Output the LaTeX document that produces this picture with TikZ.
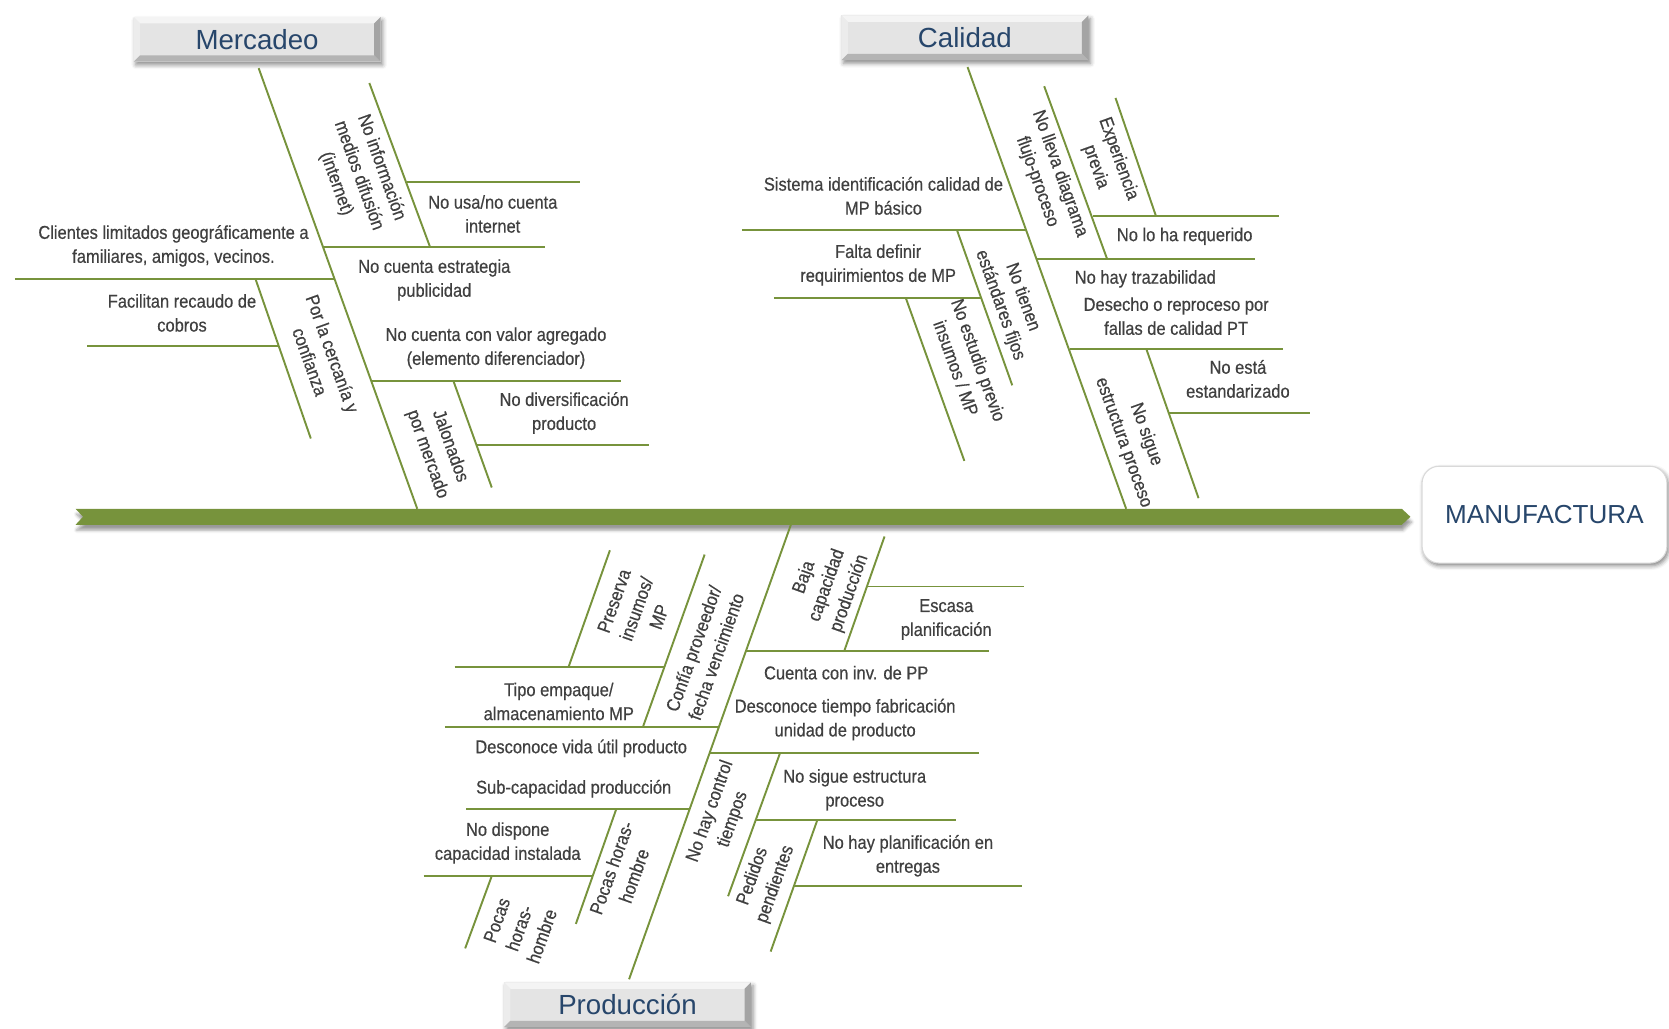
\documentclass[tikz,border=0pt]{standalone}
\usepackage{fontspec}
\setmainfont{Liberation Sans}
\newfontfamily\lblfont[FakeStretch=0.885,FakeBold=0.5]{Liberation Sans}
\usetikzlibrary{shadows.blur}

\definecolor{olive}{HTML}{77933C}
\definecolor{lbl}{HTML}{404040}
\definecolor{ttl}{HTML}{27466B}
\definecolor{boxface}{HTML}{E4E4E4}
\definecolor{bvlight}{HTML}{F4F4F4}
\definecolor{bvleft}{HTML}{ECECEC}
\definecolor{bvdark}{HTML}{B4B4B4}
\definecolor{bvright}{HTML}{A4A4A4}

\begin{document}
\begin{tikzpicture}[x=1pt,y=-1pt,
  bone/.style={draw=olive,line width=1.8pt},
  cause/.style={font=\lblfont\fontsize{17.5}{22.5}\selectfont,text=lbl,align=center,inner sep=0pt},
  causedown/.style={cause,rotate=-70.2},
  causeup/.style={cause,rotate=70.4},
  catbox/.style={minimum width=232pt,minimum height=42pt,inner sep=0pt,fill=boxface,
    font=\fontsize{26}{30}\selectfont,text=ttl,
    blur shadow={shadow xshift=2pt,shadow yshift=-3pt,shadow blur radius=4pt,shadow opacity=45},
    path picture={
      \fill[bvlight] (path picture bounding box.north west) -- (path picture bounding box.north east)
        -- ([shift={(-6pt,-6pt)}]path picture bounding box.north east)
        -- ([shift={(6pt,-6pt)}]path picture bounding box.north west) -- cycle;
      \fill[bvleft] (path picture bounding box.north west) -- ([shift={(6pt,-6pt)}]path picture bounding box.north west)
        -- ([shift={(6pt,6pt)}]path picture bounding box.south west) -- (path picture bounding box.south west) -- cycle;
      \fill[bvdark] (path picture bounding box.south west) -- (path picture bounding box.south east)
        -- ([shift={(-6pt,6pt)}]path picture bounding box.south east)
        -- ([shift={(6pt,6pt)}]path picture bounding box.south west) -- cycle;
      \fill[bvright] (path picture bounding box.north east) -- ([shift={(-6pt,-6pt)}]path picture bounding box.north east)
        -- ([shift={(-6pt,6pt)}]path picture bounding box.south east) -- (path picture bounding box.south east) -- cycle;
    }},
  effect/.style={rounded corners=16pt,draw=gray!30,line width=1pt,fill=white,
    minimum width=230pt,minimum height=91pt,inner sep=0pt,
    font=\fontsize{24.5}{28}\selectfont,text=ttl,
    blur shadow={shadow xshift=1.5pt,shadow yshift=-2.5pt,shadow blur radius=4pt,shadow opacity=50}}
]
\useasboundingbox (0,0) rectangle (1568,966);

% ---------- spine and effect ----------
\fill[fill=olive,blur shadow={shadow xshift=1pt,shadow yshift=-5pt,shadow blur radius=3pt,shadow opacity=40}]
  (71,478) -- (1317,478) -- (1325,485.5) -- (1317,493) -- (71,493) -- (78,485.5) -- cycle;
\node[effect] (mfg) at (1451,483.5) {MANUFACTURA};

% ---------- category boxes ----------
\node[catbox] (mer) at (241.5,37) {Mercadeo};
\node[catbox] (cal) at (906.5,35.5) {Calidad};
\node[catbox] (pro) at (589.5,944) {Producción};

% ---------- Mercadeo bones ----------
\coordinate (m-top) at (243,64);   \coordinate (m-bot) at (392,478);
\coordinate (m1L) at (304,232);    \coordinate (m1R) at (512,232);
\coordinate (m1a-top) at (347,78); \coordinate (m1a-bot) at (404,232);
\coordinate (m1bL) at (382,171);   \coordinate (m1bR) at (545,171);
\coordinate (m2L) at (14,262);     \coordinate (m2R) at (315,262);
\coordinate (m2a-top) at (240,262);\coordinate (m2a-bot) at (292,412);
\coordinate (m2bL) at (82,325);    \coordinate (m2bR) at (262,325);
\coordinate (m3L) at (349,358);    \coordinate (m3R) at (583,358);
\coordinate (m3a-top) at (426,358);\coordinate (m3a-bot) at (462,458);
\coordinate (m3bL) at (448,418);   \coordinate (m3bR) at (610,418);
\foreach \a/\b in {m-top/m-bot,m1L/m1R,m1a-top/m1a-bot,m1bL/m1bR,m2L/m2R,m2a-top/m2a-bot,
                   m2bL/m2bR,m3L/m3R,m3a-top/m3a-bot,m3bL/m3bR}
  \draw[bone] (\a) -- (\b);

% ---------- Calidad bones ----------
\coordinate (c-top) at (909,63);   \coordinate (c-bot) at (1058,478);
\coordinate (c1L) at (697,216);    \coordinate (c1R) at (964,216);
\coordinate (c1a-top) at (899,216);\coordinate (c1a-bot) at (951,362);
\coordinate (c2L) at (727,280);    \coordinate (c2R) at (922,280);
\coordinate (c2a-top) at (851,280);\coordinate (c2a-bot) at (906,433);
\coordinate (c3L) at (974,243);    \coordinate (c3R) at (1179,243);
\coordinate (c3a-top) at (981,81); \coordinate (c3a-bot) at (1040,243);
\coordinate (c3bL) at (1027,203);  \coordinate (c3bR) at (1202,203);
\coordinate (c3c-top) at (1048,92);\coordinate (c3c-bot) at (1086,203);
\coordinate (c4L) at (1005,328);   \coordinate (c4R) at (1205,328);
\coordinate (c4a-top) at (1077,328);\coordinate (c4a-bot) at (1126,468);
\coordinate (c4bL) at (1098,388);  \coordinate (c4bR) at (1231,388);
\foreach \a/\b in {c-top/c-bot,c1L/c1R,c1a-top/c1a-bot,c2L/c2R,c2a-top/c2a-bot,c3L/c3R,
                   c3a-top/c3a-bot,c3bL/c3bR,c3c-top/c3c-bot,c4L/c4R,c4a-top/c4a-bot,c4bL/c4bR}
  \draw[bone] (\a) -- (\b);

% ---------- Producción bones ----------
\coordinate (p-top) at (743,493);  \coordinate (p-bot) at (591,920);
\coordinate (p1a-top) at (831,504);\coordinate (p1a-bot) at (793,612);
\coordinate (p1bL) at (815,551);   \coordinate (p1bR) at (962,551);
\coordinate (p1L) at (700,612);    \coordinate (p1R) at (929,612);
\coordinate (p2L) at (666,707);    \coordinate (p2R) at (920,707);
\coordinate (p2a-top) at (733,707);\coordinate (p2a-bot) at (684,842);
\coordinate (p2bL) at (710,770);   \coordinate (p2bR) at (898,770);
\coordinate (p2c-top) at (768,770);\coordinate (p2c-bot) at (724,894);
\coordinate (p2dL) at (746,832);   \coordinate (p2dR) at (960,832);
\coordinate (p3L) at (427,627);    \coordinate (p3R) at (625,627);
\coordinate (p3a-top) at (573,517);\coordinate (p3a-bot) at (534,627);
\coordinate (p4L) at (418,683);    \coordinate (p4R) at (675,683);
\coordinate (p4a-top) at (662,521);\coordinate (p4a-bot) at (604,683);
\coordinate (p5L) at (438,760);    \coordinate (p5R) at (647,760);
\coordinate (p5a-top) at (579,760);\coordinate (p5a-bot) at (541,868);
\coordinate (p6L) at (398,823);    \coordinate (p6R) at (557,823);
\coordinate (p6a-top) at (462,823);\coordinate (p6a-bot) at (437,891);
\foreach \a/\b in {p-top/p-bot,p1a-top/p1a-bot,p1bL/p1bR,p1L/p1R,p2L/p2R,p2a-top/p2a-bot,
                   p2bL/p2bR,p2c-top/p2c-bot,p2dL/p2dR,p3L/p3R,p3a-top/p3a-bot,p4L/p4R,
                   p4a-top/p4a-bot,p5L/p5R,p5a-top/p5a-bot,p6L/p6R,p6a-top/p6a-bot}
  \draw[bone] (\a) -- (\b);

% ---------- Mercadeo causes ----------
\node[cause] (tm1) at (463,201) {No usa/no cuenta\\internet};
\node[cause] (tm2) at (163,231) {Clientes limitados geográficamente a\\familiares, amigos, vecinos.};
\node[cause] (tm3) at (408,263) {No cuenta estrategia\\publicidad};
\node[cause] (tm4) at (171,294) {Facilitan recaudo de\\cobros};
\node[cause] (tm5) at (466,327) {No cuenta con valor agregado\\(elemento diferenciador)};
\node[cause] (tm6) at (530,388) {No diversificación\\producto};
\node[causedown] (rm1) at (337,165) {No información\\medios difusión\\(internet)};
\node[causedown] (rm2) at (302,336) {Por la cercanía y\\confianza};
\node[causedown] (rm3) at (412,423) {Jalonados\\por mercado};

% ---------- Calidad causes ----------
\node[cause] (tc1) at (830,184) {Sistema identificación calidad de\\MP básico};
\node[cause] (tc2) at (1113,222) {No lo ha requerido};
\node[cause] (tc3) at (825,249) {Falta definir\\requirimientos de MP};
\node[cause] (tc4) at (1076,262) {No hay trazabilidad};
\node[cause] (tc5) at (1105,297) {Desecho o reproceso por\\fallas de calidad PT};
\node[cause] (tc6) at (1163,356) {No está\\estandarizado};
\node[causedown] (rc1) at (985,167) {No lleva diagrama\\flujo-proceso};
\node[causedown] (rc2) at (1040,153) {Experiencia\\previa};
\node[causedown] (rc3) at (950,283) {No tienen\\estándares fijos};
\node[causedown] (rc4) at (909,342) {No estudio previo\\insumos / MP};
\node[causedown] (rc5) at (1066,412) {No sigue\\estructura proceso};

% ---------- Producción causes ----------
\node[cause] (tp1) at (889,582) {Escasa\\planificación};
\node[cause] (tp2) at (795,632) {Cuenta con inv. de PP};
\node[cause] (tp3) at (525,659) {Tipo empaque/\\almacenamiento MP};
\node[cause] (tp4) at (794,676) {Desconoce tiempo fabricación\\unidad de producto};
\node[cause] (tp5) at (546,703) {Desconoce vida útil producto};
\node[cause] (tp6) at (803,742) {No sigue estructura\\proceso};
\node[cause] (tp7) at (539,741) {Sub-capacidad producción};
\node[cause] (tp8) at (477,792) {No dispone\\capacidad instalada};
\node[cause] (tp9) at (853,804) {No hay planificación en\\entregas};
\node[causeup] (rp1) at (598,572) {Preserva\\insumos/\\MP};
\node[causeup] (rp2) at (662,613) {Confía proveedor/\\fecha vencimiento};
\node[causeup] (rp3) at (777,550) {Baja\\capacidad\\producción};
\node[causeup] (rp4) at (678,766) {No hay control\\tiempos};
\node[causeup] (rp5) at (718,827) {Pedidos\\pendientes};
\node[causeup] (rp6) at (585,819) {Pocas horas-\\hombre};
\node[causeup] (rp7) at (488,872) {Pocas\\horas-\\hombre};
\end{tikzpicture}
\end{document}
